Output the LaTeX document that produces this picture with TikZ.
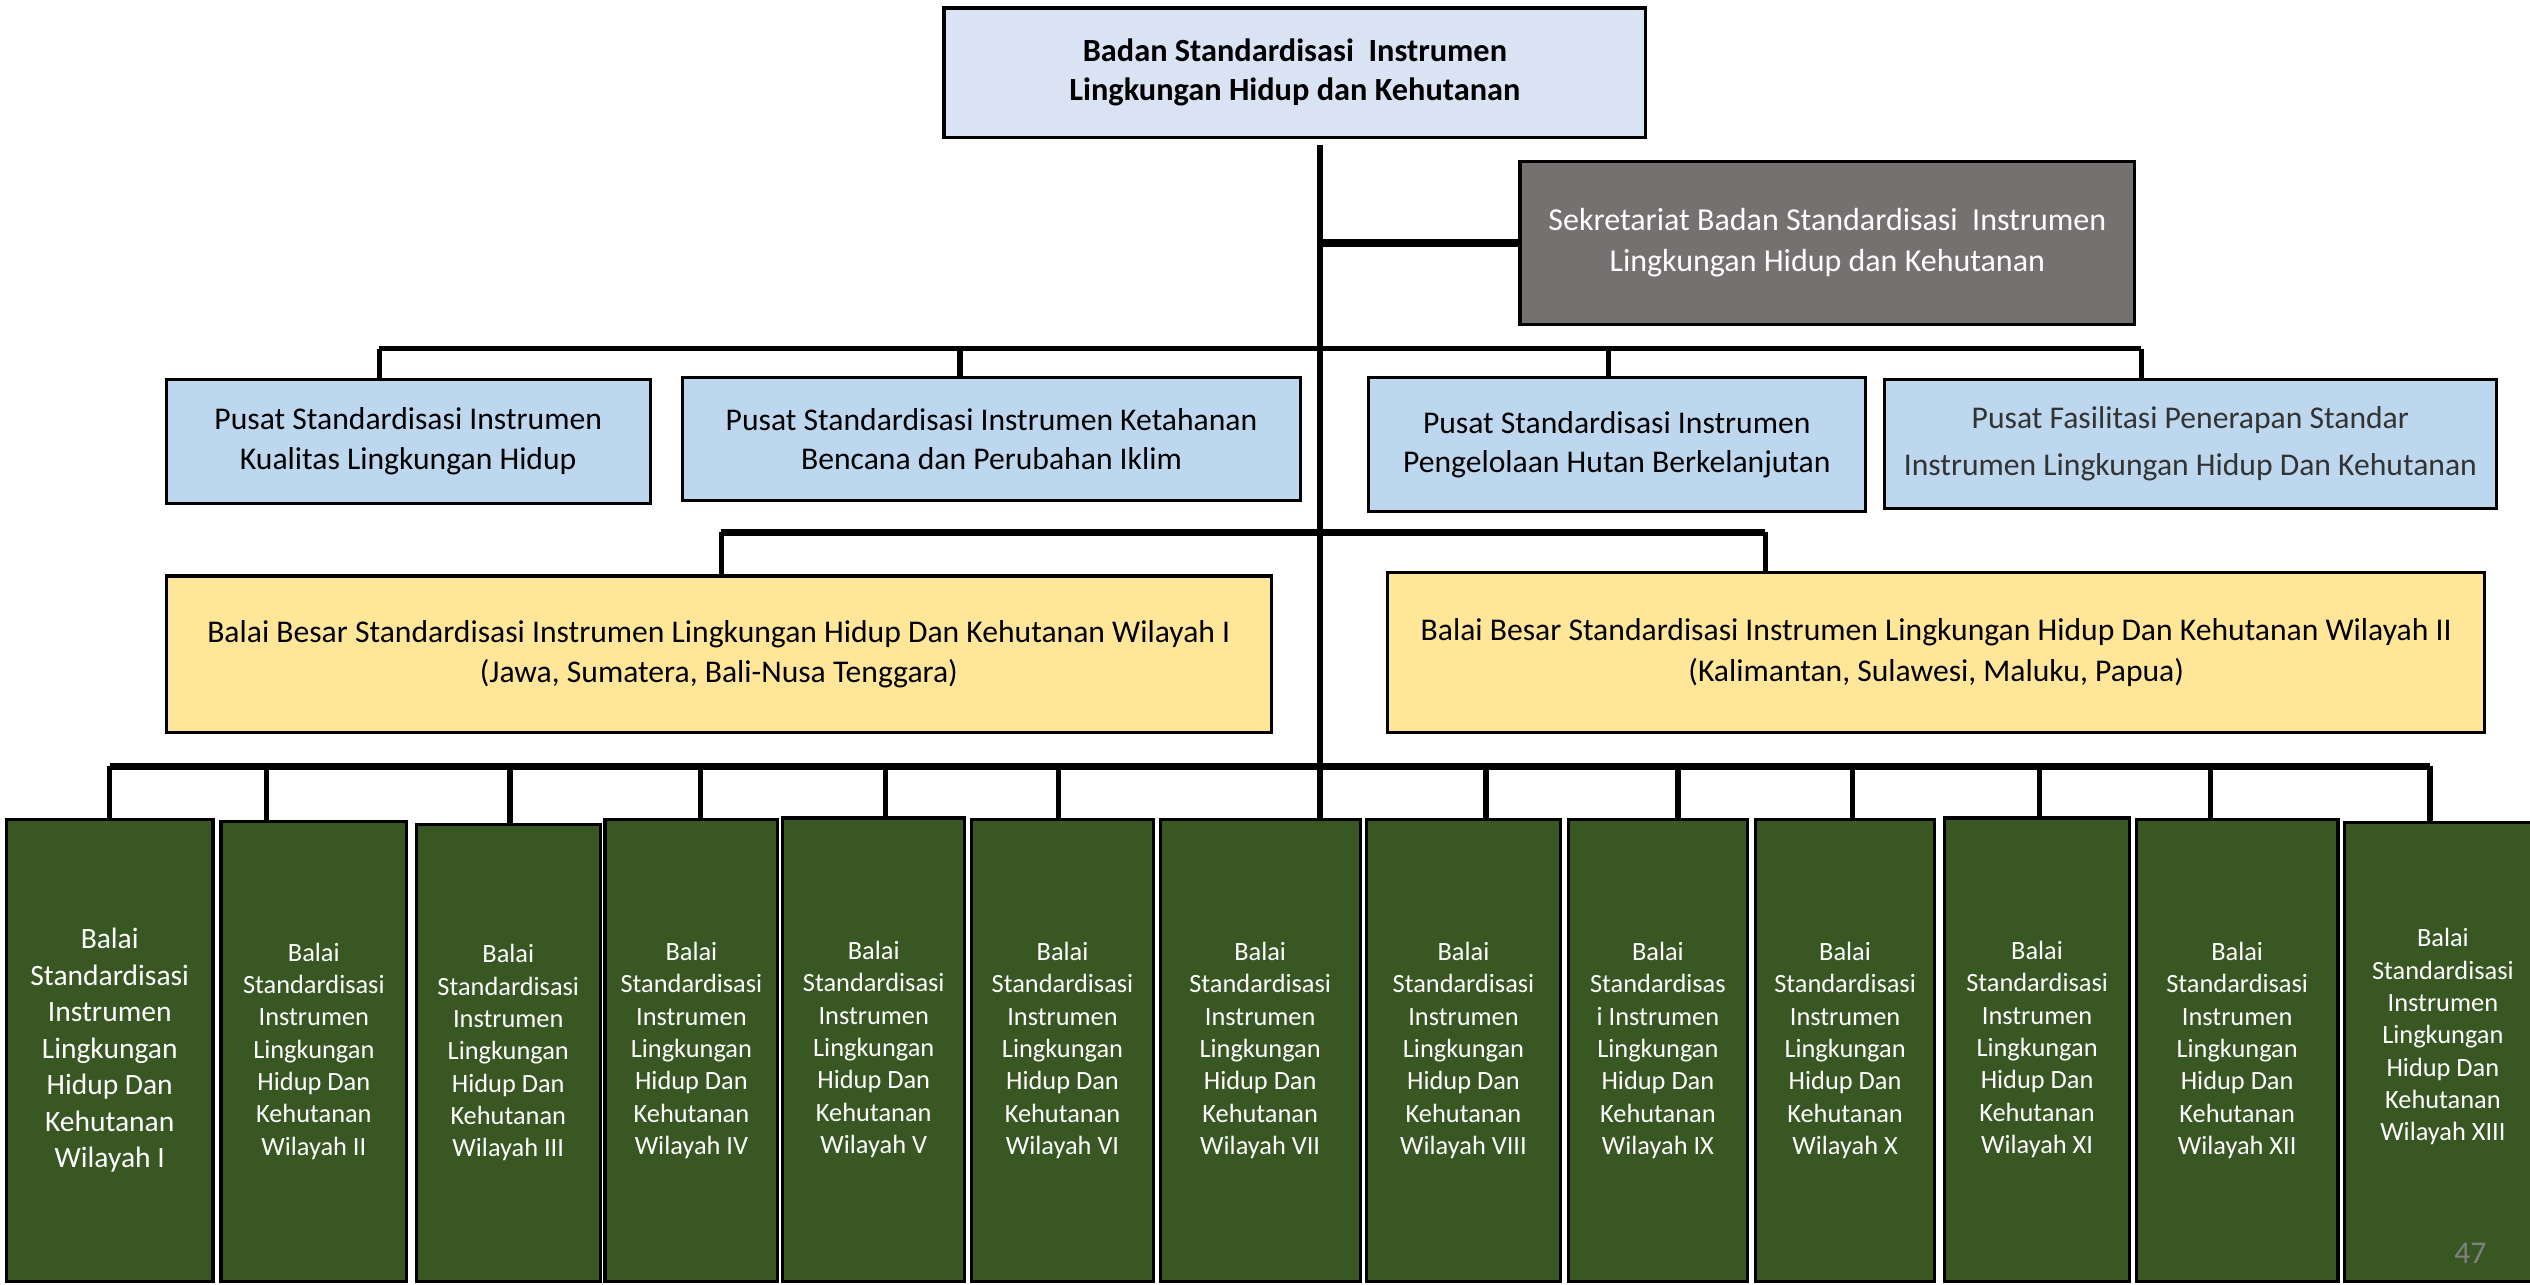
\documentclass[tikz,border=0pt]{standalone}
\usepackage{fontspec}
\setmainfont{Carlito}
\definecolor{topblue}{HTML}{DAE3F3}
\definecolor{pusblue}{HTML}{BDD7EE}
\definecolor{sekgray}{HTML}{767171}
\definecolor{bbyellow}{HTML}{FFE699}
\definecolor{balaigreen}{HTML}{385723}
\tikzset{
  wh/.style 2 args={minimum width=(#1)*0.16135mm, minimum height=(#2)*0.16135mm},
  unit/.style={draw=black, line width=0.9pt, align=center, inner sep=0pt},
  topbox/.style={unit, fill=topblue, font=\fontsize{9.2}{11.2}\selectfont\bfseries},
  sekbox/.style={unit, fill=sekgray, text=white, font=\fontsize{9.1}{11.6}\selectfont},
  pusbox/.style={unit, fill=pusblue, font=\fontsize{9}{11.2}\selectfont},
  bbbox/.style={unit, fill=bbyellow, font=\fontsize{9}{11.6}\selectfont},
  balaibox/.style={unit, fill=balaigreen, text=white, font=\fontsize{7.5}{9.2}\selectfont},
  bus/.style={line width=1.5pt},
  fatbus/.style={line width=2.2pt}
}
\begin{document}
\begin{tikzpicture}[x=0.16135mm, y=-0.16135mm]
  \clip (0,0) rectangle (1568,796);
  \fill[white] (0,0) rectangle (1568,796);

  % pimpinan dan sekretariat
  \node[topbox, wh={435}{80}] (badan) at (802.5,45)
    {Badan Standardisasi\ \ Instrumen\\Lingkungan Hidup dan Kehutanan};
  \node[sekbox, wh={381}{101}] (sek) at (1132.5,150.5)
    {Sekretariat Badan Standardisasi\ \ Instrumen\\Lingkungan Hidup dan Kehutanan};

  % pusat
  \node[pusbox, wh={300}{77}] (pus1) at (253,273.5)
    {Pusat Standardisasi Instrumen\\Kualitas Lingkungan Hidup};
  \node[pusbox, wh={383}{76}] (pus2) at (614.5,272)
    {Pusat Standardisasi Instrumen Ketahanan\\Bencana dan Perubahan Iklim};
  \node[pusbox, wh={308}{83}] (pus3) at (1002,275.5)
    {Pusat Standardisasi Instrumen\\Pengelolaan Hutan Berkelanjutan};
  \node[pusbox, wh={379}{80}, text=black!80, font=\fontsize{9}{13.5}\selectfont] (pus4) at (1357.5,275)
    {Pusat Fasilitasi Penerapan Standar\\Instrumen Lingkungan Hidup Dan Kehutanan};

  % balai besar
  \node[bbbox, wh={685}{97}] (bb1) at (445.5,405.5)
    {Balai Besar Standardisasi Instrumen Lingkungan Hidup Dan Kehutanan Wilayah I\\(Jawa, Sumatera, Bali-Nusa Tenggara)};
  \node[bbbox, wh={680}{99}] (bb2) at (1200,404.5)
    {Balai Besar Standardisasi Instrumen Lingkungan Hidup Dan Kehutanan Wilayah II\\(Kalimantan, Sulawesi, Maluku, Papua)};

  % balai wilayah
  \foreach \i/\xl/\xr/\yt/\w in {2/137/252/509/II, 3/258/372/511/III, 4/375/482/508/IV,
      5/485/598/507/V, 6/602/715/508/VI, 7/719/843/508/VII, 8/847/967/508/VIII,
      10/1088/1199/508/X, 11/1205/1320/507/XI, 12/1324/1449/508/XII} {
    \pgfmathsetmacro\cx{(\xl+\xr)/2}
    \pgfmathsetmacro\cy{(\yt+794)/2}
    \pgfmathsetmacro\bw{\xr-\xl}
    \pgfmathsetmacro\bh{794-\yt}
    \node[balaibox, wh={\bw}{\bh}] (g\i) at (\cx,\cy)
      {Balai\\Standardisasi\\Instrumen\\Lingkungan\\Hidup Dan\\Kehutanan\\Wilayah \w};
  }
  \node[balaibox, wh={128}{286}, font=\fontsize{8.4}{10.4}\selectfont] (g1) at (68,651)
    {Balai\\Standardisasi\\Instrumen\\Lingkungan\\Hidup Dan\\Kehutanan\\Wilayah I};
  \node[balaibox, wh={111}{286}] (g9) at (1027.5,651)
    {Balai\\Standardisas\\i Instrumen\\Lingkungan\\Hidup Dan\\Kehutanan\\Wilayah IX};
  \node[balaibox, wh={122}{284}] (g13) at (1514,652)
    {Balai\\Standardisasi\\Instrumen\\Lingkungan\\Hidup Dan\\Kehutanan\\Wilayah XIII\\[0.6pt]};

  % garis komando
  \coordinate (t0) at (818,90);
  \draw[bus] (t0) -- (t0 |- g7.north);
  \draw[fatbus] (t0 |- sek.west) -- (sek.west);

  \foreach \i/\x in {1/235, 2/595, 3/997, 4/1327}
    \coordinate (p\i) at (\x,216);
  \draw[bus] (p1) -- (p4);
  \foreach \i in {1,...,4}
    \draw[bus] (p\i) -- (p\i |- pus\i.north);

  \coordinate (q1) at (447,330);
  \coordinate (q2) at (1094,330);
  \draw[fatbus] (q1) -- (q2);
  \foreach \i in {1,2}
    \draw[bus] (q\i) -- (q\i |- bb\i.north);

  \foreach \i/\x in {1/68, 2/165, 3/316, 4/434, 5/549, 6/656, 7/818, 8/921,
      9/1040, 10/1148, 11/1264, 12/1370, 13/1506}
    \coordinate (d\i) at (\x,475);
  \draw[fatbus] (d1) -- (d13);
  \foreach \i in {1,...,13}
    \draw[bus] (d\i) -- (d\i |- g\i.north);

  \node[text=gray, font=\fontsize{9}{11}\selectfont] (hal) at (1531,777) {47};
\end{tikzpicture}
\end{document}
